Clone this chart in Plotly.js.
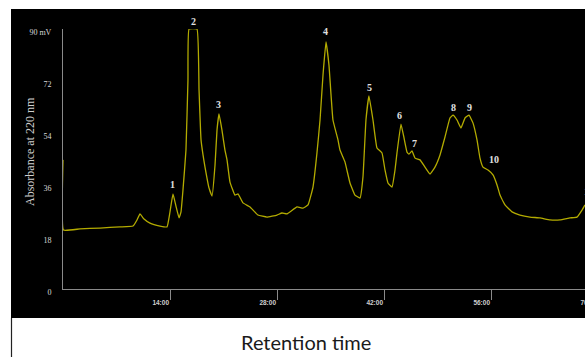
<!DOCTYPE html>
<html>
<head>
<meta charset="utf-8">
<script src="https://cdn.plot.ly/plotly-3.0.1.min.js"></script>
<style>
html, body { margin:0; padding:0; overflow:hidden; width:585px; height:357px; background:#fff; }
#chart { width:600px; height:357px; }
</style>
</head>
<body>
<div id="chart"></div>
<script>
// Retention time (min) and absorbance (mV)
const timeMin = [0, 0.07, 2.22, 4.84, 7.46, 9.16, 9.68, 10.07, 10.60, 11.38, 12.69, 13.61, 14.0, 14.39, 14.78, 15.18, 15.44, 15.70, 16.09, 16.35, 16.49, 17.53, 17.80, 18.06, 18.32, 18.58, 19.10, 19.50, 19.89, 20.15, 20.41, 20.80, 21.19, 21.46, 21.85, 22.50, 22.90, 23.55, 24.47, 25.51, 26.69, 28.0, 28.65, 29.31, 30.62, 31.40, 32.06, 32.71, 33.23, 33.63, 34.02, 34.41, 34.80, 35.32, 35.98, 36.24, 36.89, 37.55, 38.20, 38.86, 39.25, 39.64, 40.03, 40.56, 41.08, 41.74, 42.13, 42.52, 43.05, 43.44, 43.70, 44.22, 44.62, 45.01, 45.27, 45.66, 46.06, 46.71, 47.36, 48.02, 48.67, 49.33, 49.98, 50.63, 51.03, 51.55, 52.07, 52.60, 53.12, 53.64, 54.17, 54.56, 54.95, 55.61, 56.26, 56.79, 57.18, 57.83, 58.75, 59.79, 61.10, 62.41, 63.72, 65.03, 66.34, 67.25, 67.91, 68.30];
const absorbance = [44.7, 20.4, 20.8, 21.1, 21.5, 21.8, 23.9, 26.0, 24.2, 22.8, 21.8, 21.5, 26.7, 32.9, 28.7, 24.6, 26.7, 34.3, 48.1, 72.3, 90, 90, 68.9, 51.6, 46.4, 42.2, 35.0, 32.2, 42.9, 55.0, 60.6, 55.0, 48.1, 44.7, 37.0, 32.5, 32.9, 29.8, 28.4, 25.6, 24.9, 25.6, 26.3, 26.0, 28.4, 28.0, 29.1, 35.3, 47.1, 58.5, 74.1, 85.5, 77.5, 58.5, 51.6, 48.1, 44.0, 36.7, 32.5, 31.5, 38.8, 58.5, 66.8, 58.5, 48.8, 47.1, 41.2, 36.7, 35.3, 41.2, 47.1, 57.1, 52.3, 47.4, 46.7, 47.8, 45.3, 44.7, 42.2, 39.8, 42.2, 46.4, 52.6, 59.2, 60.2, 58.5, 55.7, 59.2, 60.2, 57.5, 51.6, 45.3, 42.2, 41.2, 39.5, 36.0, 32.5, 29.1, 26.7, 25.6, 24.9, 24.6, 23.9, 23.9, 24.6, 24.9, 27.3, 29.1];

// Peak labels
const peakLabels = ['1', '2', '3', '4', '5', '6', '7', '8', '9', '10', '11'];
const peakLabelT = [14.39, 17.01, 20.41, 34.41, 40.04, 44.09, 45.93, 51.03, 53.25, 56.39, 67.9];
const peakLabelV = [36.3, 90, 63.7, 89.0, 69.9, 59.9, 50.5, 63.0, 63.0, 44.7, 33.6];

// Axis ticks
const xTickVals = [14, 28, 42, 56, 70];
const xTickText = ['14:00', '28:00', '42:00', '56:00', '70:00'];
const yTickVals = [0, 18, 36, 54, 72, 90];
const yTickText = ['0', '18', '36', '54', '72', '90 mV'];

const trace = {
  x: timeMin, y: absorbance, type: 'scatter', mode: 'lines',
  line: { color: '#b3ab00', width: 1.3, shape: 'spline', smoothing: 0.3 },
  hoverinfo: 'skip', showlegend: false
};

const annotations = peakLabels.map((t, i) => ({
  x: peakLabelT[i], y: peakLabelV[i], xref: 'x', yref: 'y', text: t,
  showarrow: false,
  xanchor: i === 10 ? 'left' : 'center', yanchor: 'middle',
  yshift: i === 1 ? 8 : 0,
  font: { family: 'Liberation Serif', size: 10, color: '#e0e0e0', weight: 'bold' }
}));

annotations.push({
  x: (306 - 63) / 535, y: (289 - 342) / 260, xref: 'paper', yref: 'paper',
  text: 'Retention time', showarrow: false, xanchor: 'center', yanchor: 'middle',
  font: { family: 'Lato', size: 20, color: '#1a1a1a' }
});
annotations.push({
  x: (30 - 63) / 535, y: 0.527, xref: 'paper', yref: 'paper',
  text: 'Absorbance at 220 nm', showarrow: false, textangle: -90,
  xanchor: 'center', yanchor: 'middle',
  font: { family: 'Liberation Serif', size: 12, color: '#cfcfcf' }
});

const layout = {
  width: 600, height: 357,
  margin: { l: 63, r: 2, t: 29, b: 68 },
  paper_bgcolor: '#ffffff', plot_bgcolor: '#000000',
  showlegend: false,
  xaxis: {
    range: [0, 70], showgrid: false, zeroline: false,
    showline: true, linecolor: '#8a8a8a', linewidth: 1,
    ticks: 'outside', ticklen: 10, tickcolor: '#8a8a8a', tickwidth: 1,
    tickvals: xTickVals, ticktext: xTickText,
    ticklabelposition: 'outside left',
    ticklabelstandoff: 7,
    tickfont: { family: 'Liberation Sans', size: 6.5, color: '#d0d0d0', weight: 'bold' }
  },
  yaxis: {
    range: [0, 90], showgrid: false, zeroline: false,
    showline: true, linecolor: '#8a8a8a', linewidth: 1,
    ticks: '', tickvals: yTickVals, ticktext: yTickText,
    ticklabelstandoff: 9, ticklabelshift: 3,
    tickfont: { family: 'Liberation Serif', size: 8, color: '#d8d8d8' }
  },
  shapes: [
    { type: 'rect', xref: 'paper', yref: 'paper', x0: (11 - 63) / 535, x1: 1.02,
      y0: (289 - 318) / 260, y1: (289 - 9) / 260, fillcolor: '#000000',
      line: { width: 0 }, layer: 'below' },
    { type: 'line', xref: 'paper', yref: 'paper', x0: (11.5 - 63) / 535, x1: (11.5 - 63) / 535,
      y0: (289 - 318) / 260, y1: -0.28, line: { color: '#222222', width: 1.2 } }
  ],
  annotations: annotations
};

Plotly.newPlot('chart', [trace], layout, { displayModeBar: false, staticPlot: true });
</script>
</body>
</html>
